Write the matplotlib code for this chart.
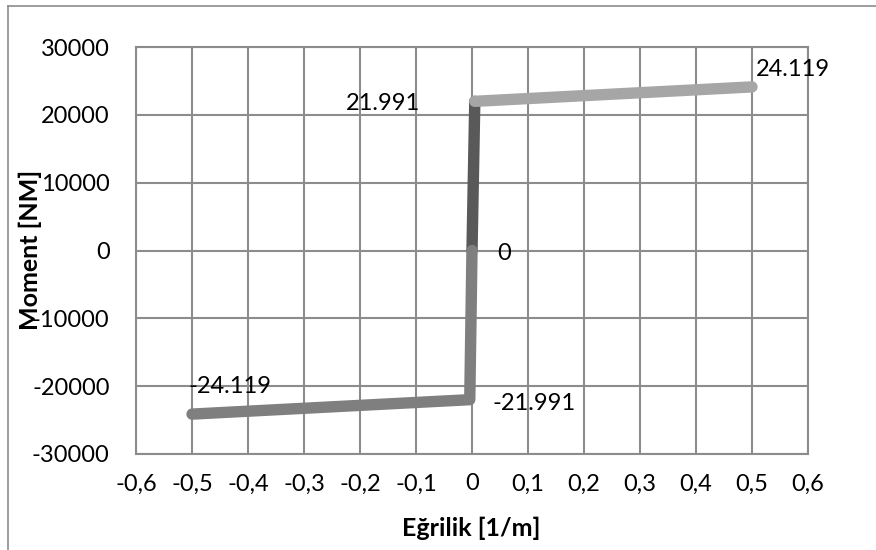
import matplotlib
matplotlib.use("Agg")
import matplotlib.pyplot as plt
from matplotlib.lines import Line2D

plt.rcParams['font.family'] = ['Lato', 'DejaVu Sans']

# Data
seg_dark_x = [0.0, 0.005]
seg_dark_y = [0, 21991]
seg_light_x = [0.005, 0.5]
seg_light_y = [21991, 24119]
seg_mid_x = [0.0, -0.004, -0.5]
seg_mid_y = [0, -21991, -24119]

labels_text = ["21.991", "24.119", "-24.119", "-21.991", "0"]
labels_x = [0.005, 0.5, -0.5, -0.004, 0.0]
labels_y = [21991, 24119, -24119, -21991, 0]

x_ticks = [-0.6, -0.5, -0.4, -0.3, -0.2, -0.1, 0, 0.1, 0.2, 0.3, 0.4, 0.5, 0.6]
x_tick_labels = ["-0,6", "-0,5", "-0,4", "-0,3", "-0,2", "-0,1", "0",
                 "0,1", "0,2", "0,3", "0,4", "0,5", "0,6"]
y_ticks = [-30000, -20000, -10000, 0, 10000, 20000, 30000]
y_tick_labels = ["-30000", "-20000", "-10000", "0", "10000", "20000", "30000"]

W, H = 876, 550
fig = plt.figure(figsize=(W / 100, H / 100), dpi=100)
ax = fig.add_axes([136 / W, (H - 454) / H, (808 - 136) / W, (454 - 47) / H])

grid_c = '#8c8c8c'
lw = 8.2
ax.plot(seg_dark_x, seg_dark_y, color='#595959', lw=lw, solid_capstyle='round',
        solid_joinstyle='round', zorder=3)
ax.plot(seg_mid_x, seg_mid_y, color='#7f7f7f', lw=lw, solid_capstyle='round',
        solid_joinstyle='round', zorder=4)
ax.plot(seg_light_x, seg_light_y, color='#a6a6a6', lw=lw, solid_capstyle='round',
        solid_joinstyle='round', zorder=4)

offsets = [(-55, -2, 'right'), (4, 17, 'left'), (-4, 28, 'left'),
           (23, -4, 'left'), (25, -3, 'left')]
for t, x, y, (dx, dy, ha) in zip(labels_text, labels_x, labels_y, offsets):
    ax.annotate(t, (x, y), xytext=(dx, dy), textcoords='offset pixels',
                ha=ha, va='center', fontsize=17, color='black', zorder=5)

ax.set_xlim(-0.6, 0.6)
ax.set_ylim(-30000, 30000)
ax.set_xticks(x_ticks)
ax.set_xticklabels(x_tick_labels)
ax.set_yticks(y_ticks)
ax.set_yticklabels(y_tick_labels)
ax.tick_params(axis='both', length=0, labelsize=17, labelcolor='black')
ax.tick_params(axis='x', pad=14)
ax.tick_params(axis='y', pad=19)
ax.grid(True, color=grid_c, lw=1.5)
ax.set_axisbelow(True)
for s in ax.spines.values():
    s.set_color(grid_c)
    s.set_linewidth(1.5)

fig.text(471 / W, 1 - 528 / H, "Eğrilik [1/m]", ha='center', va='center',
         fontsize=18, fontweight='bold')
fig.text(30 / W, 1 - 250 / H, "Moment [NM]", ha='center', va='center',
         rotation=90, fontsize=18, fontweight='bold')

# outer chart border (left and top visible)
fig.add_artist(Line2D([8 / W, 8 / W], [0, 1 - 6 / H], transform=fig.transFigure,
                      color='#8c8c8c', lw=1.2))
fig.add_artist(Line2D([8 / W, 1], [1 - 6 / H, 1 - 6 / H], transform=fig.transFigure,
                      color='#8c8c8c', lw=1.2))

fig.savefig("out.png", dpi=100)
